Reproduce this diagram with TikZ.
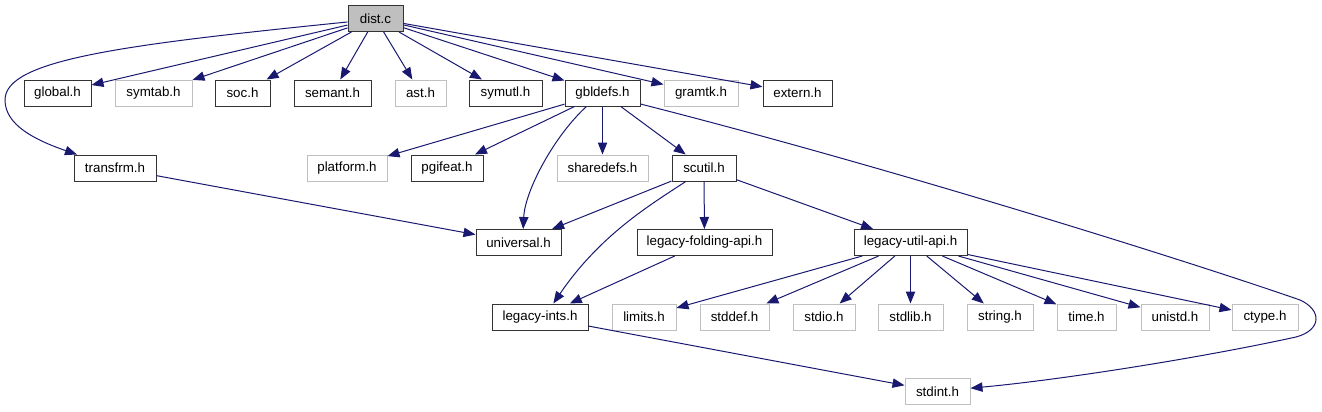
\documentclass[tikz,border=0pt]{standalone}
\usepackage{fontspec}
\setmainfont{Liberation Sans}
\usetikzlibrary{arrows.meta}
\definecolor{edgec}{HTML}{191970}
\definecolor{greyb}{HTML}{BFBFBF}
\begin{document}
\begin{tikzpicture}[x=0.75pt,y=-0.75pt,
  box/.style={draw=black!80, line width=0.75pt, minimum height=19.5pt, inner sep=0pt, font=\fontsize{10}{12}\selectfont, text=black},
  gbox/.style={box, draw=greyb},
  bw/.style={minimum width=#1*0.75pt},
  dep/.style={draw=edgec, line width=0.75pt, -{Triangle[length=9pt,width=7pt]}}
]
\useasboundingbox (0,0) rectangle (1322,411);
% row 0
\node[box,bw=55,fill=greyb] (dist) at (375.5,18.5) {dist.c};
% row 1
\node[box,bw=67]  (global)  at (57.5,93)  {global.h};
\node[gbox,bw=77] (symtab)  at (153.5,93) {symtab.h};
\node[box,bw=55]  (soc)     at (242.5,93) {soc.h};
\node[box,bw=77]  (semant)  at (332.5,93) {semant.h};
\node[gbox,bw=51] (ast)     at (420.5,93) {ast.h};
\node[box,bw=73]  (symutl)  at (505.5,93) {symutl.h};
\node[box,bw=75]  (gbldefs) at (602.5,93) {gbldefs.h};
\node[gbox,bw=74] (gramtk)  at (701,93)   {gramtk.h};
\node[box,bw=69]  (extern)  at (797.5,93) {extern.h};
% row 2
\node[box,bw=82]  (transfrm)  at (115,168)   {transfrm.h};
\node[gbox,bw=80] (platform)  at (347,168)   {platform.h};
\node[box,bw=72]  (pgifeat)   at (447,168)   {pgifeat.h};
\node[gbox,bw=91] (sharedefs) at (602.5,168) {sharedefs.h};
\node[box,bw=64]  (scutil)    at (704,168)   {scutil.h};
% row 3
\node[box,bw=85]  (universal) at (518.5,242.5) {universal.h};
\node[box,bw=135] (folding)   at (704.5,242.5) {legacy-folding-api.h};
\node[box,bw=113] (utilapi)   at (910.5,242.5) {legacy-util-api.h};
% row 4
\node[box,bw=96]  (ints)   at (540,317)    {legacy-ints.h};
\node[gbox,bw=64] (limits) at (644,317)    {limits.h};
\node[gbox,bw=69] (stddef) at (734.5,317)  {stddef.h};
\node[gbox,bw=62] (stdio)  at (824,317)    {stdio.h};
\node[gbox,bw=65] (stdlib) at (910.5,317)  {stdlib.h};
\node[gbox,bw=66] (string) at (1000,317)   {string.h};
\node[gbox,bw=59] (time)   at (1086.5,317) {time.h};
\node[gbox,bw=68] (unistd) at (1175,317)   {unistd.h};
\node[gbox,bw=66] (ctype)  at (1265,317)   {ctype.h};
% row 5
\node[gbox,bw=65] (stdint) at (937.5,391.5) {stdint.h};

% edges from dist.c
\draw[dep] (dist) -- (global);
\draw[dep] (dist) -- (symtab);
\draw[dep] (dist) -- (soc);
\draw[dep] (dist) -- (semant);
\draw[dep] (dist) -- (ast);
\draw[dep] (dist) -- (symutl);
\draw[dep] (dist) -- (gbldefs);
\draw[dep] (dist) -- (gramtk);
\draw[dep] (dist) -- (extern);
\draw[dep] ([yshift=-2.6pt]dist.west) .. controls (120,45) and (5,60) .. (5,100)
   .. controls (5,125) and (35,140) .. ([xshift=-28.5pt]transfrm.north);
% transfrm
\draw[dep] (transfrm) -- (universal);
% gbldefs
\draw[dep] (gbldefs) -- (platform);
\draw[dep] (gbldefs) -- (pgifeat);
\draw[dep] (gbldefs) -- (sharedefs);
\draw[dep] (gbldefs) -- (scutil);
\draw[dep] ([xshift=-12pt]gbldefs.south) .. controls (555,135) and (525,190) .. ([xshift=3.5pt]universal.north);
\draw[dep] ([yshift=-8.25pt]gbldefs.east) .. controls (900,170) and (1200,265) .. (1300,300)
   .. controls (1322,310) and (1322,330) .. (1296,337)
   .. controls (1200,358) and (1060,380) .. ([yshift=2.5pt]stdint.east);
% scutil
\draw[dep] (scutil) -- (universal);
\draw[dep] ([xshift=-13.7pt]scutil.south) .. controls (650,205) and (600,235) .. ([xshift=10pt]ints.north);
\draw[dep] (scutil) -- (folding);
\draw[dep] (scutil) -- (utilapi);
% folding
\draw[dep] (folding) -- (ints);
% util api
\draw[dep] (utilapi) -- (limits);
\draw[dep] (utilapi) -- (stddef);
\draw[dep] (utilapi) -- (stdio);
\draw[dep] (utilapi) -- (stdlib);
\draw[dep] (utilapi) -- (string);
\draw[dep] (utilapi) -- (time);
\draw[dep] (utilapi) -- (unistd);
\draw[dep] (utilapi) -- (ctype);
% ints
\draw[dep] (ints) -- (stdint);
\end{tikzpicture}
\end{document}
